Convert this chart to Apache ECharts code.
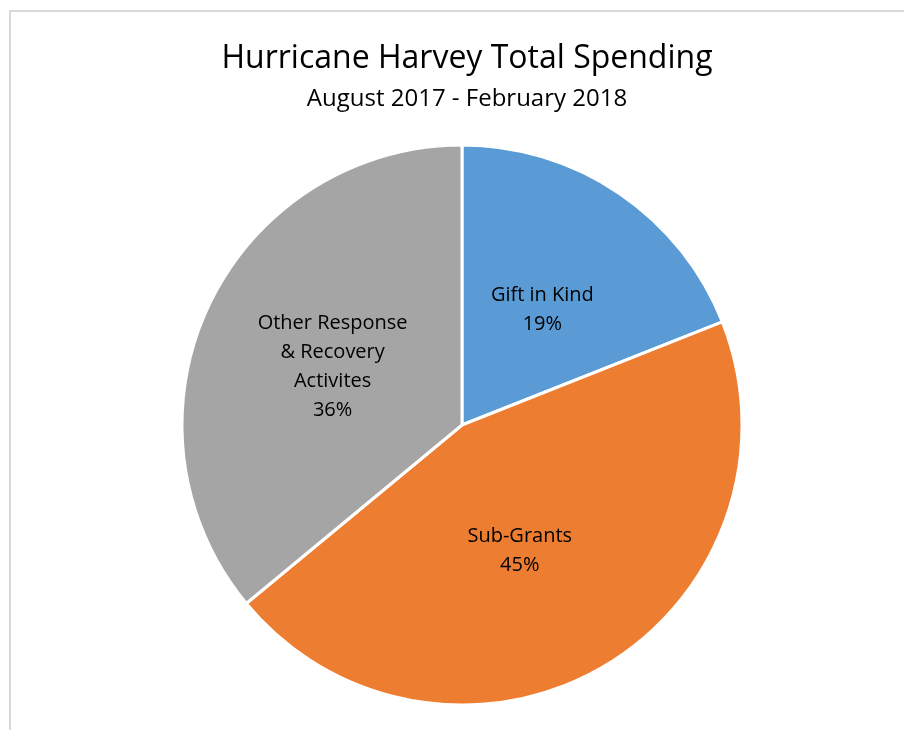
<!DOCTYPE html>
<html>
<head>
    <meta charset="utf-8" />
    <title>Hurricane Harvey Total Spending</title>
    <style type="text/css">
        body, html {width: 100%; height: 100%; margin: 0; background: #fff;}
        #chart {width: 904px; height: 730px;}
    </style>
    <script src="https://cdn.jsdelivr.net/npm/echarts@6/dist/echarts.min.js"></script>
</head>
<body>
<div id="chart"></div>
<script type="text/javascript">
    var categories = ['Gift in Kind', 'Sub-Grants', 'Other Response\n& Recovery\nActivites'];
    var shares = [19, 45, 36];
    var colors = ['#5B9BD5', '#ED7D31', '#A5A5A5'];

    var pieData = [];
    for (var i = 0; i < categories.length; i++) {
        pieData.push({name: categories[i], value: shares[i], itemStyle: {color: colors[i]}});
    }
    // excel nudges the big slice's label a bit toward the middle
    pieData[1].label = {offset: [-15, 3]};

    var myChart = echarts.init(document.getElementById('chart'));
    var option = {
        backgroundColor: '#fff',
        textStyle: {fontFamily: '"Open Sans", "Noto Sans", sans-serif'},
        title: {
            text: 'Hurricane Harvey Total Spending',
            subtext: 'August 2017 - February 2018',
            left: 462,
            textAlign: 'center',
            top: 38,
            itemGap: 12,
            textStyle: {fontSize: 32, fontWeight: 'normal', color: '#000'},
            subtextStyle: {fontSize: 24, color: '#000'}
        },
        graphic: [{
            type: 'rect',
            shape: {x: 10, y: 11, width: 1000, height: 1000},
            style: {fill: 'none', stroke: '#d9d9d9', lineWidth: 2},
            silent: true,
            z: -1
        }],
        series: [{
            type: 'pie',
            center: [462, 425],
            radius: 280,
            startAngle: 90,
            clockwise: true,
            data: pieData,
            itemStyle: {borderColor: '#fff', borderWidth: 3},
            label: {
                show: true,
                position: 'inside',
                formatter: '{b}\n{d}%',
                fontSize: 20,
                lineHeight: 29,
                color: '#000',
                offset: [0, 3]
            },
            labelLine: {show: false},
            emphasis: {disabled: true}
        }]
    };
    myChart.setOption(option);
</script>
</body>
</html>
